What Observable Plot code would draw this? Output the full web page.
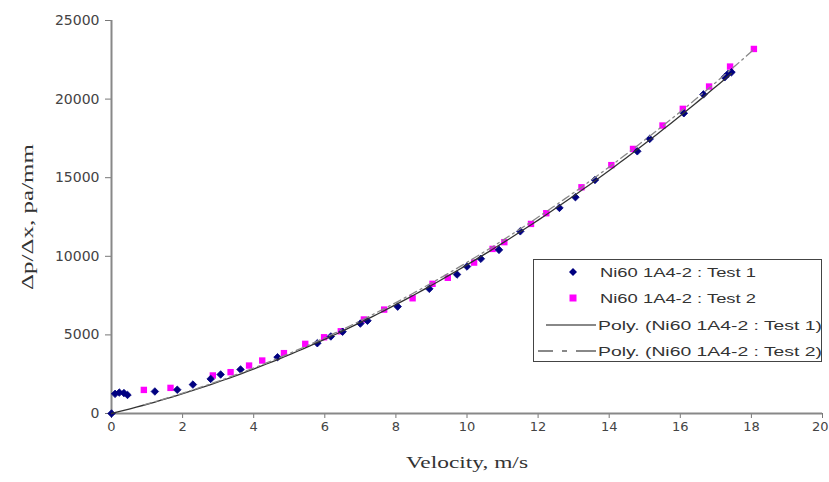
<!DOCTYPE html>
<html>
<head>
<meta charset="utf-8">
<script src="https://cdn.jsdelivr.net/npm/d3@7"></script>
<script src="https://cdn.jsdelivr.net/npm/@observablehq/plot@0.6"></script>
<style>
  body { margin: 0; background: #fff; }
  #wrap { position: relative; width: 829px; height: 482px; }
  #legend { position: absolute; left: 533px; top: 259px; }
</style>
</head>
<body>
<div id="wrap"></div>
<script>
// Test 1 (navy diamonds)
const test1V = [0, 0.1, 0.22, 0.35, 0.45, 1.22, 1.85, 2.29, 2.79, 3.07, 3.63, 4.67, 5.79, 6.17, 6.5, 7.0, 7.2, 8.05, 8.94, 9.72, 10.0, 10.39, 10.9, 11.5, 12.6, 13.05, 13.6, 14.79, 15.14, 16.1, 16.65, 17.25, 17.34, 17.44];
const test1P = [0, 1250, 1330, 1300, 1180, 1400, 1510, 1840, 2200, 2480, 2800, 3580, 4470, 4900, 5200, 5720, 5900, 6800, 7930, 8840, 9350, 9840, 10410, 11590, 13080, 13760, 14860, 16680, 17470, 19100, 20300, 21390, 21600, 21710];
// Test 2 (magenta squares)
const test2V = [0.91, 1.66, 2.85, 3.35, 3.87, 4.24, 4.85, 5.45, 5.98, 6.45, 7.1, 7.67, 8.47, 9.03, 9.46, 10.2, 10.72, 11.05, 11.8, 12.23, 13.22, 14.06, 14.67, 15.5, 16.07, 16.81, 17.4, 18.07];
const test2P = [1500, 1630, 2420, 2630, 3050, 3370, 3840, 4430, 4850, 5230, 5980, 6610, 7330, 8250, 8630, 9600, 10470, 10900, 12060, 12740, 14390, 15800, 16830, 18320, 19380, 20800, 22070, 23190];

const xTicks = [0, 2, 4, 6, 8, 10, 12, 14, 16, 18, 20];
const yTicks = [0, 5000, 10000, 15000, 20000, 25000];
const xTitle = "Velocity, m/s";
const yTitle = "Δp/Δx, pa/mm";
const seriesNames = ["Ni60 1A4-2 : Test 1", "Ni60 1A4-2 : Test 2", "Poly. (Ni60 1A4-2 : Test 1)", "Poly. (Ni60 1A4-2 : Test 2)"];

const t1 = test1V.map((v, i) => ({v, p: test1P[i]}));
const t2 = test2V.map((v, i) => ({v, p: test2P[i]}));

// Excel-style 2nd-order polynomial trendline, intercept fixed at 0, fitted to the data
function polyFit(V, P) {
  let s2=0, s3=0, s4=0, sy1=0, sy2=0;
  V.forEach((x, i) => { const y = P[i]; s2 += x*x; s3 += x*x*x; s4 += x*x*x*x; sy1 += x*y; sy2 += x*x*y; });
  const det = s4*s2 - s3*s3;
  const a = (sy2*s2 - s3*sy1) / det;
  const b = (s4*sy1 - s3*sy2) / det;
  const [x0, x1] = d3.extent(V);
  return d3.range(0, 101).map(k => { const x = x0 + (x1 - x0) * k / 100; return {v: x, p: a*x*x + b*x}; });
}
const fit1 = polyFit(test1V, test1P);
const fit2 = polyFit(test2V, test2P);

const tickFont = "DejaVu Sans, Verdana, sans-serif";

const chart = Plot.plot({
  width: 829, height: 482,
  marginLeft: 111, marginRight: 7, marginTop: 20, marginBottom: 69,
  style: { fontFamily: "Liberation Sans, Arial, sans-serif", fontSize: "12.5px", color: "#444", background: "#fff" },
  x: { domain: [0, 20], ticks: xTicks, tickSize: 5, label: null, tickFormat: () => "" },
  y: { domain: [0, 25000], ticks: yTicks, tickSize: 6, label: null, tickFormat: () => "" },
  marks: [
    Plot.axisX({ticks: xTicks, tickSize: 5, label: null, stroke: "#777", tickFormat: () => ""}),
    Plot.axisY({ticks: yTicks, tickSize: 6, label: null, stroke: "#777", tickFormat: () => ""}),
    Plot.text(xTicks.slice(0, -1), {x: d => d, text: d => String(d), frameAnchor: "bottom", dy: 17, fill: "#444", fontSize: 13, fontFamily: tickFont}),
    Plot.text(xTicks.slice(-1), {x: d => d, text: d => String(d), frameAnchor: "bottom", textAnchor: "end", dx: 6, dy: 17, fill: "#444", fontSize: 13, fontFamily: tickFont}),
    Plot.text(yTicks, {y: d => d, text: d => String(d), frameAnchor: "left", textAnchor: "end", dx: -12, fill: "#444", fontSize: 14, fontFamily: tickFont}),
    Plot.ruleY([0], {stroke: "#888", strokeWidth: 2}),
    Plot.ruleX([0], {stroke: "#888", strokeWidth: 2}),
    Plot.dot(t2, {x: "v", y: "p", symbol: "square", r: 3.6, fill: "#ff00ff", stroke: "none"}),
    Plot.dot(t1, {x: "v", y: "p", symbol: "diamond2", r: 3.4, fill: "#000080", stroke: "#000080", strokeWidth: 0.8}),
    Plot.line(fit1, {x: "v", y: "p", stroke: "#333", strokeWidth: 1.3}),
    Plot.line(fit2, {x: "v", y: "p", stroke: "#888", strokeWidth: 1.3, strokeDasharray: "8,4,2,4"}),
    Plot.text([xTitle], {frameAnchor: "bottom", dy: 54, fontFamily: "Liberation Serif, Times New Roman, serif", fontSize: 16.5, fill: "#333", className: "xtitle"}),
    Plot.text([yTitle], {frameAnchor: "left", textAnchor: "middle", dx: -84, rotate: -90, fontFamily: "Liberation Serif, Times New Roman, serif", fontSize: 16.5, fill: "#333", className: "ytitle"})
  ]
});

const wrap = document.getElementById("wrap");
wrap.appendChild(chart);

// stretch the axis titles like the (horizontally widened) reference image
const svg = d3.select(chart);
svg.selectAll('.xtitle text').attr("textLength", 122).attr("lengthAdjust", "spacingAndGlyphs");
svg.selectAll('.ytitle text').attr("textLength", 146).attr("lengthAdjust", "spacingAndGlyphs");

// legend
const rowsY = [13, 39, 66, 92];
const textLens = [156, 156, 224, 224];
const lg = d3.select(wrap).append("svg").attr("id", "legend").attr("width", 290).attr("height", 104);
lg.append("rect").attr("x", 0.5).attr("y", 0.5).attr("width", 288).attr("height", 102).attr("fill", "#fff").attr("stroke", "#444");
lg.append("path").attr("d", `M40,${rowsY[0]-4} L44,${rowsY[0]} L40,${rowsY[0]+4} L36,${rowsY[0]} Z`).attr("fill", "#000080");
lg.append("rect").attr("x", 36.5).attr("y", rowsY[1]-3.5).attr("width", 7).attr("height", 7).attr("fill", "#ff00ff");
lg.append("line").attr("x1", 13).attr("x2", 63).attr("y1", rowsY[2]).attr("y2", rowsY[2]).attr("stroke", "#888").attr("stroke-width", 2);
lg.append("line").attr("x1", 5).attr("x2", 63).attr("y1", rowsY[3]).attr("y2", rowsY[3]).attr("stroke", "#888").attr("stroke-width", 2).attr("stroke-dasharray", "15,9,5,9,20");
seriesNames.forEach((name, i) => {
  lg.append("text").attr("x", i < 2 ? 67 : 65).attr("y", rowsY[i]).attr("dy", "0.36em")
    .attr("font-family", "Liberation Sans, Arial, sans-serif").attr("font-size", 13.5).attr("fill", "#333")
    .attr("textLength", textLens[i]).attr("lengthAdjust", "spacingAndGlyphs").text(name);
});
</script>
</body>
</html>
